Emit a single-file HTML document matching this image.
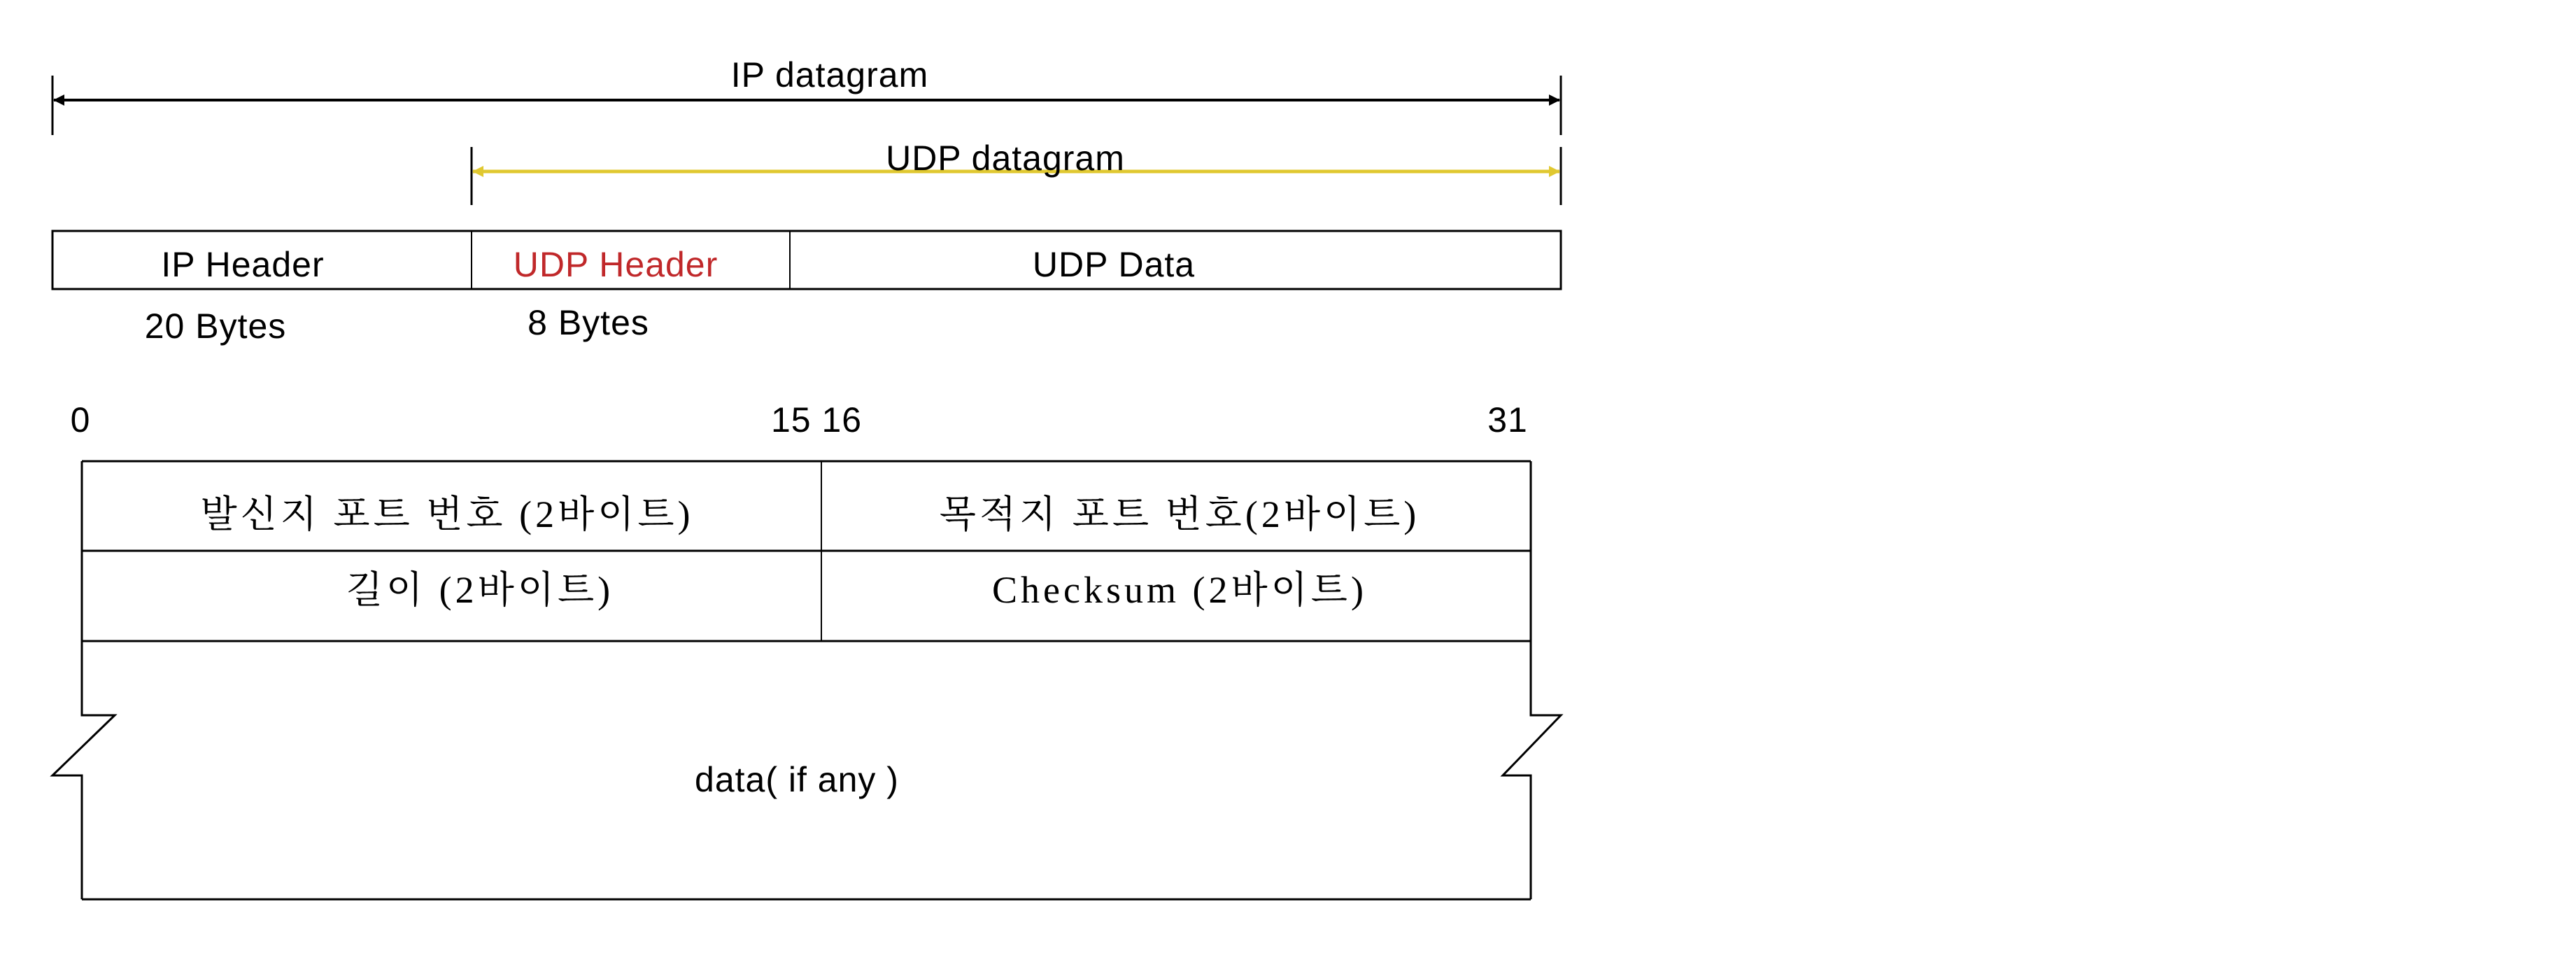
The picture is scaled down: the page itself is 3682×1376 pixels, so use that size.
<!DOCTYPE html>
<html><head><meta charset="utf-8"><style>html,body{margin:0;padding:0;background:#fff}svg{display:block}</style></head>
<body>
<svg width="3682" height="1376" viewBox="0 0 3682 1376" xmlns="http://www.w3.org/2000/svg">
<defs>
<marker id="ab" markerWidth="16" markerHeight="16" refX="15" refY="8" orient="auto-start-reverse" markerUnits="userSpaceOnUse"><path d="M0,0 L16,8 L0,16 z" fill="#000"/></marker>
<marker id="ay" markerWidth="16" markerHeight="16" refX="15" refY="8" orient="auto-start-reverse" markerUnits="userSpaceOnUse"><path d="M0,0 L16,8 L0,16 z" fill="#e0c830"/></marker>
</defs>
<g font-family="Liberation Sans, Arial, sans-serif" font-size="50" letter-spacing="1" text-anchor="middle">
<!-- IP datagram -->
<line x1="75" y1="108" x2="75" y2="193" stroke="#000" stroke-width="3"/>
<line x1="2231" y1="108" x2="2231" y2="193" stroke="#000" stroke-width="3"/>
<line x1="77" y1="143" x2="2229" y2="143" stroke="#000" stroke-width="4" marker-start="url(#ab)" marker-end="url(#ab)"/>
<text x="1186" y="124">IP datagram</text>
<!-- UDP datagram -->
<line x1="674" y1="210" x2="674" y2="293" stroke="#000" stroke-width="3"/>
<line x1="2231" y1="210" x2="2231" y2="293" stroke="#000" stroke-width="3"/>
<line x1="676" y1="245" x2="2229" y2="245" stroke="#e0c830" stroke-width="5" marker-start="url(#ay)" marker-end="url(#ay)"/>
<text x="1437" y="243">UDP datagram</text>
<!-- box -->
<rect x="75" y="330" width="2156" height="83" fill="none" stroke="#000" stroke-width="3"/>
<line x1="674" y1="330" x2="674" y2="413" stroke="#000" stroke-width="2"/>
<line x1="1129" y1="330" x2="1129" y2="413" stroke="#000" stroke-width="2"/>
<text x="347" y="395">IP Header</text>
<text x="880" y="395" fill="#c0282a">UDP Header</text>
<text x="1592" y="395">UDP Data</text>
<text x="308" y="483">20 Bytes</text>
<text x="841" y="478">8 Bytes</text>
<!-- bit numbers -->
<text x="115" y="617">0</text>
<text x="1167" y="617">15 16</text>
<text x="2155" y="617">31</text>
<!-- table -->
<g stroke="#000" stroke-width="3" fill="none">
<line x1="117" y1="659" x2="2188" y2="659"/>
<line x1="117" y1="787" x2="2188" y2="787"/>
<line x1="117" y1="916" x2="2188" y2="916"/>
<line x1="117" y1="1285" x2="2188" y2="1285"/>
<line x1="1174" y1="659" x2="1174" y2="916" stroke-width="2"/>
<polyline points="117,659 117,1022 164,1022 75,1108 117,1108 117,1285"/>
<polyline points="2188,659 2188,1022 2231,1022 2148,1108 2188,1108 2188,1285"/>
</g>
<g font-family="'Liberation Serif', 'Noto Serif CJK SC', serif" font-size="54" letter-spacing="5">
<text x="639" y="753">발신지 포트 번호 (2바이트)</text>
<text x="1686" y="753">목적지 포트 번호(2바이트)</text>
<text x="686" y="861">길이 (2바이트)</text>
<text x="1686" y="861">Checksum (2바이트)</text>
</g>
<text x="1139" y="1131">data( if any )</text>
</g>
</svg>
</body></html>
